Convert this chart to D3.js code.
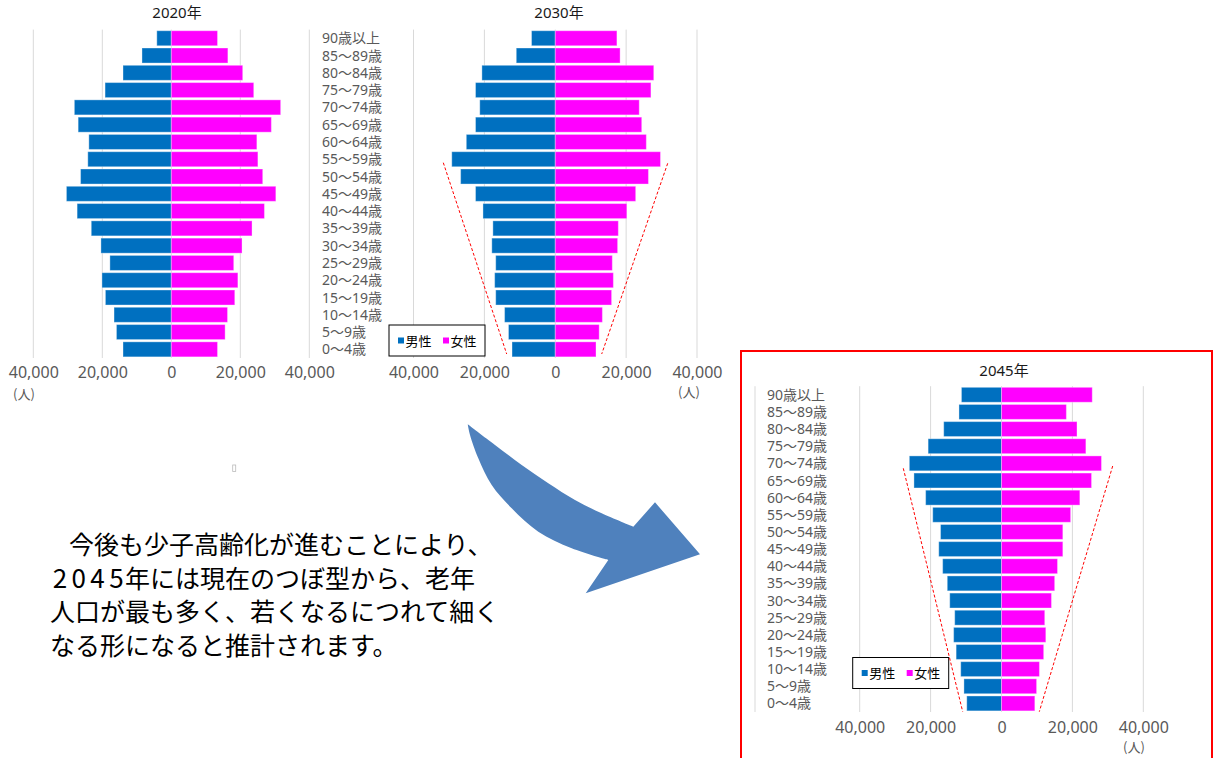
<!DOCTYPE html>
<html><head><meta charset="utf-8">
<script src="https://cdn.jsdelivr.net/npm/d3@7"></script>
<style>
html,body{margin:0;padding:0;background:#fff;}
svg{display:block;}
</style></head>
<body>
<svg id="c" width="1214" height="758"></svg>
<script>
// ---- data ----
const ages = ["90歳以上","85～89歳","80～84歳","75～79歳","70～74歳","65～69歳","60～64歳","55～59歳","50～54歳","45～49歳","40～44歳","35～39歳","30～34歳","25～29歳","20～24歳","15～19歳","10～14歳","5～9歳","0～4歳"];
const male2020   = [4200, 8500, 14000, 19200, 28100, 27000, 23900, 24200, 26300, 30400, 27300, 23200, 20400, 17800, 20100, 19100, 16600, 15900, 14000];
const female2020 = [13400, 16400, 20700, 23900, 31700, 29000, 24800, 25100, 26500, 30300, 27000, 23400, 20500, 18100, 19300, 18400, 16300, 15600, 13400];
const male2030   = [6700, 11000, 20700, 22500, 21300, 22500, 25100, 29200, 26700, 22500, 20400, 17600, 17900, 16800, 17100, 16800, 14300, 13200, 12200];
const female2030 = [17400, 18300, 27800, 27000, 23700, 24400, 25700, 29700, 26300, 22700, 20200, 17800, 17600, 16100, 16400, 15900, 13300, 12400, 11500];
const male2045   = [11300, 12000, 16300, 20700, 26000, 24700, 21400, 19400, 17200, 17700, 16600, 15300, 14600, 13200, 13500, 12800, 11500, 10600, 9800];
const female2045 = [25600, 18300, 21300, 23800, 28200, 25400, 22100, 19500, 17300, 17300, 15800, 15000, 14100, 12200, 12500, 11900, 10700, 9900, 9400];
const tickValues = [-40000, -20000, 0, 20000, 40000];
const legendLabels = ["男性", "女性"];
const titles = ["2020年", "2030年", "2045年"];
const unitLabel = "(人)";
const paragraph = ["今後も少子高齢化が進むことにより、", ["2045", "年には現在のつぼ型から、老年"], "人口が最も多く、若くなるにつれて細く", "なる形になると推計されます。"];

const MALE = "#0070C0", FEMALE = "#FF00FF", GRID = "#d9d9d9", LABEL = "#595959";
const FONT = "'Noto Sans','Noto Sans CJK JP',sans-serif";
const JFONT = "'Noto Sans CJK JP','Noto Sans',sans-serif";

const svg = d3.select("#c");
svg.append("rect").attr("width",1214).attr("height",758).attr("fill","#fff");

function pyramid(o){
  const g = svg.append("g");
  const x = d3.scaleLinear().domain([-40000, 40000]).range(o.xr);
  const y = d3.scaleBand().domain(ages).range(o.yr).paddingInner(0.13).paddingOuter(0.065);
  // gridlines
  g.selectAll("line.grid").data(tickValues).join("line")
    .attr("x1", d => x(d)).attr("x2", d => x(d))
    .attr("y1", o.yr[0]).attr("y2", o.yr[1])
    .attr("stroke", GRID).attr("stroke-width", 1);
  if (o.extraLine != null) {
    g.append("line").attr("x1", o.extraLine).attr("x2", o.extraLine)
      .attr("y1", o.yr[0]).attr("y2", o.yr[1]).attr("stroke", GRID);
  }
  // bars
  g.selectAll("rect.m").data(o.male).join("rect")
    .attr("x", d => x(-d)).attr("width", d => x(0) - x(-d))
    .attr("y", (d,i) => y(ages[i])).attr("height", y.bandwidth())
    .attr("fill", MALE).attr("stroke", "#fff").attr("stroke-opacity", 0.35).attr("stroke-width", 1);
  g.selectAll("rect.f").data(o.female).join("rect")
    .attr("x", x(0)).attr("width", d => x(d) - x(0))
    .attr("y", (d,i) => y(ages[i])).attr("height", y.bandwidth())
    .attr("fill", FEMALE).attr("stroke", "#fff").attr("stroke-opacity", 0.35).attr("stroke-width", 1);
  // axis tick labels
  const ax = d3.axisBottom(x).tickValues(tickValues).tickSize(0).tickPadding(0)
    .tickFormat(d => d3.format(",")(Math.abs(d)));
  const axg = g.append("g").attr("transform", `translate(0,${o.tickY})`).call(ax);
  axg.select(".domain").remove();
  axg.selectAll("text").attr("font-family", FONT).attr("font-size", 16).attr("fill", LABEL).attr("dy", 0);
  // category labels
  if (o.labelX != null) {
    g.selectAll("text.cat").data(ages).join("text")
      .attr("x", o.labelX).attr("y", d => y(d) + y.bandwidth()/2 + 5)
      .attr("font-family", FONT).attr("font-size", 14).attr("fill", LABEL).text(d => d);
  }
  // title
  g.append("text").attr("x", o.titleX).attr("y", o.titleY).attr("text-anchor","middle")
    .attr("font-family", FONT).attr("font-size", 15).attr("fill", "#1a1a1a").text(o.title);
  // unit
  g.append("text").attr("x", o.unit[0]).attr("y", o.unit[1])
    .attr("font-family", JFONT).attr("font-size", 13).attr("fill", LABEL).text(unitLabel);
  // legend
  if (o.legend) {
    const [lx, ly] = o.legend;
    const lg = g.append("g").attr("transform", `translate(${lx},${ly})`);
    lg.append("rect").attr("width", 96).attr("height", 31).attr("fill", "#fff").attr("stroke", "#000").attr("stroke-width", 1);
    const cols = [MALE, FEMALE];
    legendLabels.forEach((t, i) => {
      lg.append("rect").attr("x", 9 + i*45).attr("y", 12.5).attr("width", 6).attr("height", 6).attr("fill", cols[i]);
      lg.append("text").attr("x", 16.5 + i*45).attr("y", 20.5)
        .attr("font-family", JFONT).attr("font-size", 13).attr("fill", "#000").text(t);
    });
  }
  // red dashed guide lines
  (o.guides || []).forEach(s => {
    g.append("line").attr("x1", s[0]).attr("y1", s[1]).attr("x2", s[2]).attr("y2", s[3])
      .attr("stroke", "#ff0000").attr("stroke-width", 1).attr("stroke-dasharray", "3,2");
  });
}

pyramid({title: titles[0], male: male2020, female: female2020, xr: [33.3, 309.3], yr: [29.6, 358],
  tickY: 378, titleX: 177, titleY: 18, unit: [13, 399], labelX: null});
pyramid({title: titles[1], male: male2030, female: female2030, xr: [413.5, 697], yr: [29.6, 358],
  tickY: 378, titleX: 559, titleY: 18, unit: [678, 397], labelX: 322, legend: [389, 325],
  guides: [[443.3, 162.7, 506.7, 354], [667.7, 163.3, 601.7, 354]]});

// red frame
svg.append("rect").attr("x", 741).attr("y", 351).attr("width", 471).attr("height", 420)
  .attr("fill", "none").attr("stroke", "#ff0000").attr("stroke-width", 2);

pyramid({title: titles[2], male: male2045, female: female2045, xr: [859.7, 1143.3], yr: [386.2, 712],
  tickY: 733, titleX: 1004, titleY: 376, unit: [1123, 752], labelX: 767, legend: [852.7, 657.5], extraLine: 755,
  guides: [[903.3, 468.3, 962.7, 711.7], [1112.7, 466, 1039.3, 711.7]]});

// tiny placeholder glyph box
svg.append("rect").attr("x", 232.7).attr("y", 465).attr("width", 3).attr("height", 6.5)
  .attr("fill", "none").attr("stroke", "#bbb").attr("stroke-width", 0.8);

// paragraph
const para = svg.append("text").attr("font-family", JFONT).attr("font-size", 25).attr("fill", "#000");
const baselines = [554, 588, 621, 655];
const startX = [69, 52.7, 50, 50];
paragraph.forEach((ln, i) => {
  if (Array.isArray(ln)) {
    para.append("tspan").attr("x", startX[i]).attr("y", baselines[i])
      .attr("font-size", 26).attr("letter-spacing", 4.4).text(ln[0]);
    para.append("tspan").attr("dx", -3).text(ln[1]);
  } else {
    para.append("tspan").attr("x", startX[i]).attr("y", baselines[i]).text(ln);
  }
});

// curved arrow
const upper = [[467.7,424.3],[495,445],[521.7,465],[548.3,483.3],[575,500],[601.7,513.3],[633.3,526.7]];
const head = [[655,502.3],[700,554.3],[585.7,593.3],[608.3,560]];
const lower = [[608.3,560],[571.7,548.3],[538.3,531.7],[511.7,508.3],[491.7,485],[478.3,458.3],[470,435],[467.7,424.3]];
const curve = d3.line().curve(d3.curveCatmullRom.alpha(0.5));
const lin = d3.line();
let p = curve(upper) + lin(head).replace(/^M/, "L") + curve(lower).replace(/^M/, "L") + "Z";
svg.append("path").attr("d", p).attr("fill", "#4F81BD");
</script>
</body></html>
